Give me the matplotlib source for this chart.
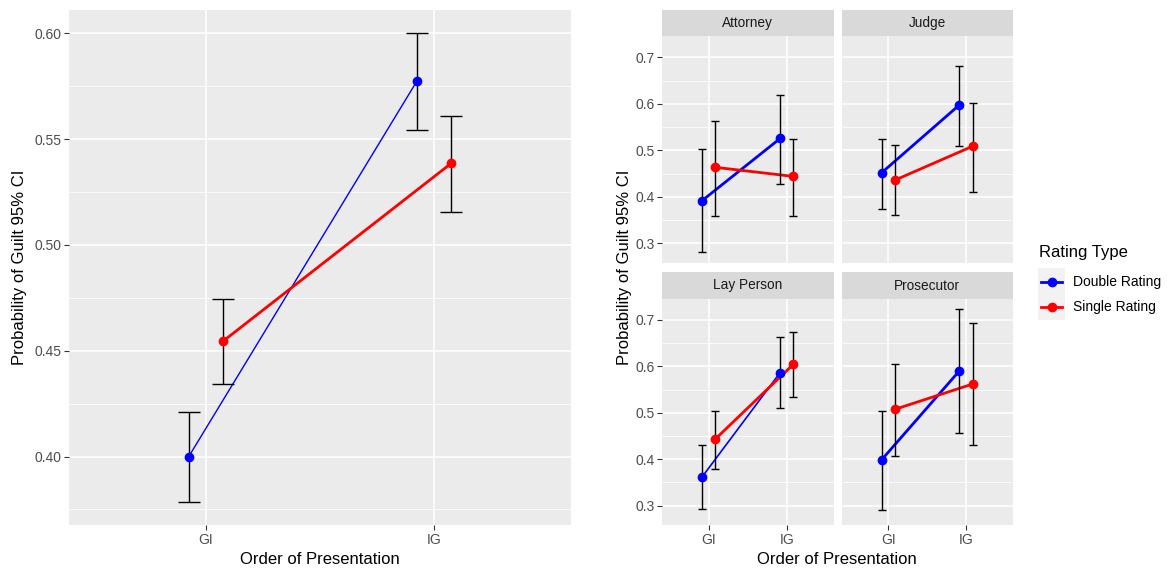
import matplotlib
matplotlib.use("Agg")
import matplotlib.pyplot as plt
from matplotlib.lines import Line2D
from matplotlib.patches import Rectangle
import numpy as np

plt.rcParams['font.family'] = ['Liberation Sans', 'DejaVu Sans']

# Data
orders = ["GI", "IG"]
rating_types = ["Double Rating", "Single Rating"]
colors = {"Double Rating": "#0000FF", "Single Rating": "#FF0000"}

# overall (left panel)
overall_mean = {"Double Rating": [0.400, 0.5775], "Single Rating": [0.4545, 0.5386]}
overall_lo = {"Double Rating": [0.3787, 0.5542], "Single Rating": [0.4341, 0.5156]}
overall_hi = {"Double Rating": [0.421, 0.600], "Single Rating": [0.4743, 0.561]}

# by role (right panels)
roles = ["Attorney", "Judge", "Lay Person", "Prosecutor"]
role_mean = {
    "Double Rating": [[0.392, 0.5256], [0.452, 0.598], [0.362, 0.5865], [0.399, 0.5905]],
    "Single Rating": [[0.4636, 0.444], [0.436, 0.509], [0.4436, 0.6045], [0.5075, 0.562]],
}
role_lo = {
    "Double Rating": [[0.2805, 0.428], [0.373, 0.5105], [0.292, 0.5097], [0.291, 0.457]],
    "Single Rating": [[0.358, 0.358], [0.3605, 0.410], [0.380, 0.534], [0.408, 0.430]],
}
role_hi = {
    "Double Rating": [[0.5025, 0.619], [0.524, 0.681], [0.430, 0.6627], [0.504, 0.724]],
    "Single Rating": [[0.564, 0.524], [0.5126, 0.602], [0.504, 0.673], [0.606, 0.693]],
}

W, H = 1167, 570
BG = "#EBEBEB"
STRIP = "#D9D9D9"
TICKC = "#4D4D4D"

fig = plt.figure(figsize=(W / 100, H / 100), dpi=100)


def px_axes(x0, y0, x1, y1):
    return fig.add_axes([x0 / W, 1 - y1 / H, (x1 - x0) / W, (y1 - y0) / H])


def gg_style(ax, ylim, major, minor, fmt):
    ax.set_facecolor(BG)
    for s in ax.spines.values():
        s.set_visible(False)
    ax.set_xlim(0.4, 2.6)
    ax.set_ylim(*ylim)
    ax.set_xticks([1, 2])
    ax.set_yticks(major)
    ax.set_yticks(minor, minor=True)
    ax.grid(True, which="major", color="white", lw=1.1, zorder=0)
    ax.grid(True, which="minor", axis="y", color="white", lw=0.55, zorder=0)
    ax.set_axisbelow(True)
    ax.tick_params(which="major", length=3.5, width=0.8, color="#333333",
                   labelsize=10, labelcolor=TICKC, pad=2)
    ax.tick_params(which="minor", length=0)
    ax.set_xticklabels(orders)
    ax.set_yticklabels([fmt.format(v) for v in major])


def draw_series(ax, x, mean, lo, hi, color, lw, capsize):
    ax.plot(x, mean, color=color, lw=lw, zorder=2, solid_capstyle="butt")
    yerr = [np.array(mean) - np.array(lo), np.array(hi) - np.array(mean)]
    ax.errorbar(x, mean, yerr=yerr, fmt="none", ecolor="black", elinewidth=1.0,
                capsize=capsize, capthick=1.0, zorder=3)
    ax.plot(x, mean, "o", color=color, ms=6, zorder=4)


def expand(lo_vals, hi_vals):
    lo_v = min(np.min(v) for v in lo_vals)
    hi_v = max(np.max(v) for v in hi_vals)
    pad = (hi_v - lo_v) * 0.05
    return lo_v - pad, hi_v + pad


# Left panel
ax = px_axes(69, 10, 571, 525)
ylim = expand(overall_lo.values(), overall_hi.values())
gg_style(ax, ylim, [0.40, 0.45, 0.50, 0.55, 0.60],
         [0.375, 0.425, 0.475, 0.525, 0.575], "{:.2f}")
dodge = {"Double Rating": -0.075, "Single Rating": 0.075}
left_lw = {"Double Rating": 1.0, "Single Rating": 2.0}
x_pos = np.array([1, 2])
for rt in rating_types:
    draw_series(ax, x_pos + dodge[rt], overall_mean[rt], overall_lo[rt],
                overall_hi[rt], colors[rt], left_lw[rt], 8)

fig.text(320 / W, 1 - 559 / H, "Order of Presentation", ha="center", va="center",
         fontsize=12, color="black")
fig.text(20 / W, 1 - 267 / H, "Probability of Guilt 95% CI", ha="center", va="center",
         rotation=90, fontsize=12, color="black")

# Facet panels
fylim = expand([np.array(v) for v in role_lo.values()], [np.array(v) for v in role_hi.values()])
cols = [(662, 833.5), (841.7, 1012.7)]
rows = [(10, 36, 262.7), (272.5, 298.5, 525)]
fdodge = {"Double Rating": -0.085, "Single Rating": 0.085}
for i, role in enumerate(roles):
    c0, c1 = cols[i % 2]
    s0, s1, p1 = rows[i // 2]
    fax = px_axes(c0, s1, c1, p1)
    gg_style(fax, fylim, [0.3, 0.4, 0.5, 0.6, 0.7], [0.35, 0.45, 0.55, 0.65], "{:.1f}")
    fax.tick_params(labelleft=(i % 2 == 0), labelbottom=(i // 2 == 1),
                    left=(i % 2 == 0), bottom=(i // 2 == 1))
    for rt in rating_types:
        lw = 1.2 if (role == "Lay Person" and rt == "Double Rating") else 2.0
        draw_series(fax, x_pos + fdodge[rt], role_mean[rt][i], role_lo[rt][i],
                    role_hi[rt][i], colors[rt], lw, 3.2)
    sax = px_axes(c0, s0, c1, s1)
    sax.set_facecolor(STRIP)
    sax.set_xticks([])
    sax.set_yticks([])
    for s in sax.spines.values():
        s.set_visible(False)
    sax.text(0.5, 0.5, role, ha="center", va="center", fontsize=9.8,
             color="#1A1A1A", transform=sax.transAxes)

fig.text(837 / W, 1 - 559 / H, "Order of Presentation", ha="center", va="center",
         fontsize=12, color="black")
fig.text(625 / W, 1 - 267 / H, "Probability of Guilt 95% CI", ha="center", va="center",
         rotation=90, fontsize=12, color="black")

# Legend (drawn by hand to match ggplot's guide layout)
fig.patches.append(Rectangle((1038 / W, 1 - 320 / H), 27 / W, 52 / H,
                             transform=fig.transFigure, facecolor="#F2F2F2",
                             edgecolor="none", zorder=0))
fig.text(1039 / W, 1 - 253 / H, "Rating Type", ha="left", va="center",
         fontsize=12, color="black")
for rt, ky in zip(rating_types, [282, 307]):
    fig.add_artist(Line2D([1041 / W, 1062 / W], [1 - ky / H, 1 - ky / H],
                          transform=fig.transFigure, color=colors[rt], lw=2))
    fig.add_artist(Line2D([1051.5 / W], [1 - ky / H], transform=fig.transFigure,
                          color=colors[rt], marker="o", ms=6, lw=0))
    fig.text(1073 / W, 1 - ky / H, rt, ha="left", va="center",
             fontsize=10, color="black")

fig.savefig("out.png", dpi=100)
